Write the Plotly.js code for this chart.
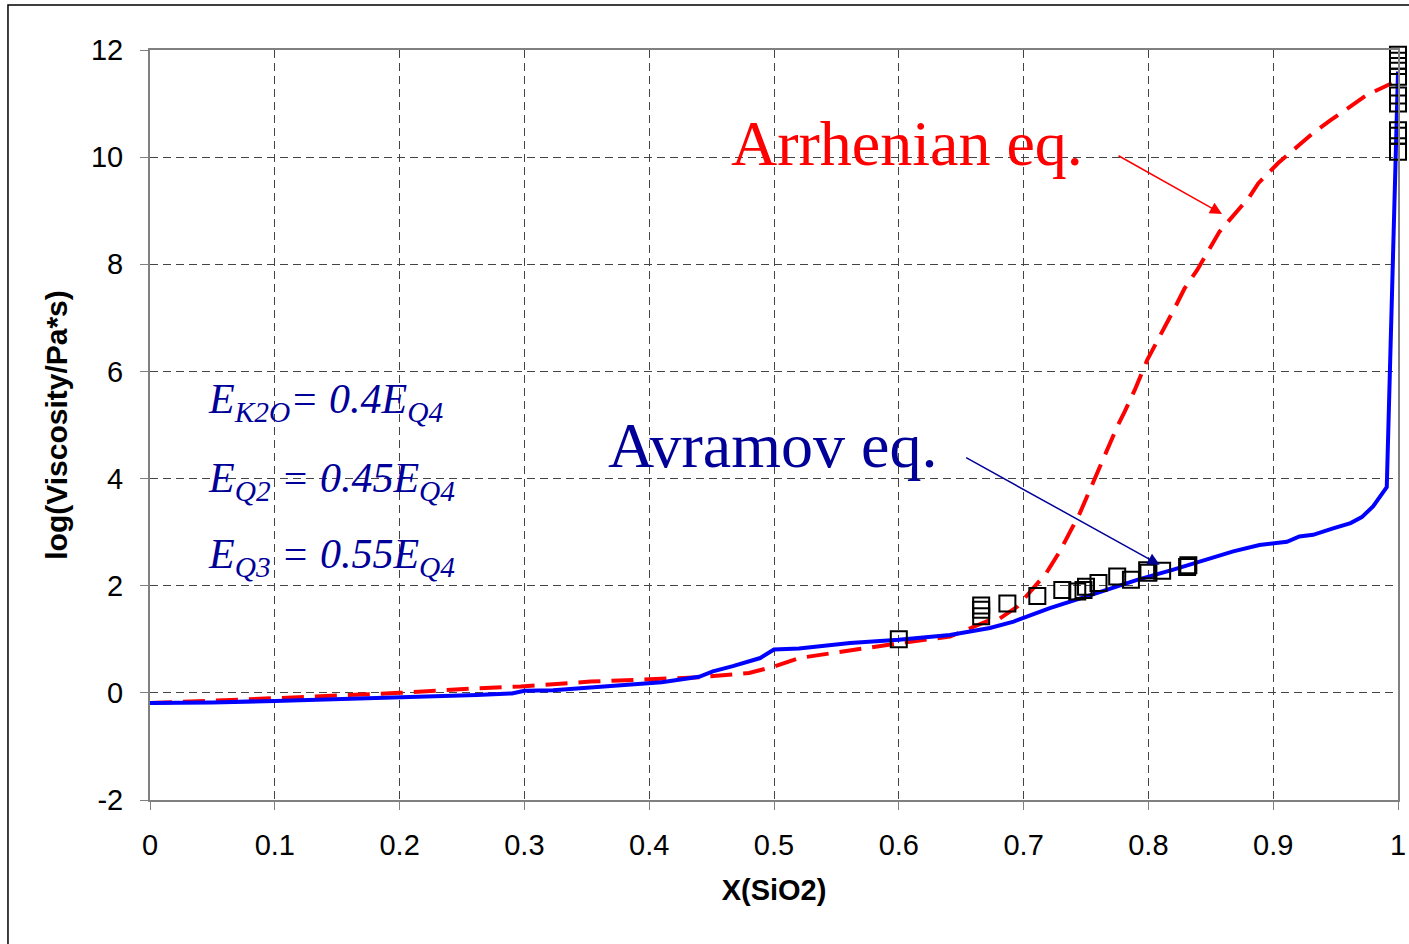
<!DOCTYPE html>
<html>
<head>
<meta charset="utf-8">
<script src="https://cdn.plot.ly/plotly-3.0.1.min.js"></script>
<style>
  html, body { margin: 0; padding: 0; background: #ffffff; }
  #chart { width: 1409px; height: 944px; }
</style>
</head>
<body>
<div id="chart"></div>
<script>
// Avramov equation (blue solid)
const avramovX = [0, 0.05, 0.1, 0.15, 0.2, 0.219, 0.262, 0.29, 0.3, 0.323, 0.36, 0.4, 0.41, 0.44, 0.451, 0.467, 0.489, 0.5, 0.52, 0.561, 0.6, 0.641, 0.673, 0.692, 0.721, 0.753, 0.791, 0.82, 0.849, 0.868, 0.889, 0.911, 0.921, 0.932, 0.948, 0.962, 0.971, 0.98, 0.991, 1.0];
const avramovY = [-0.19, -0.18, -0.15, -0.12, -0.09, -0.08, -0.04, -0.01, 0.04, 0.05, 0.12, 0.18, 0.2, 0.3, 0.4, 0.5, 0.65, 0.81, 0.83, 0.93, 0.99, 1.08, 1.21, 1.33, 1.58, 1.82, 2.11, 2.3, 2.5, 2.64, 2.76, 2.82, 2.92, 2.95, 3.07, 3.17, 3.28, 3.48, 3.84, 11.6];

// Arrhenian equation (red dashed)
const arrheniusX = [0, 0.05, 0.1, 0.15, 0.2, 0.262, 0.297, 0.353, 0.4, 0.44, 0.48, 0.5, 0.52, 0.561, 0.577, 0.601, 0.641, 0.673, 0.681, 0.695, 0.718, 0.729, 0.745, 0.752, 0.765, 0.775, 0.781, 0.789, 0.799, 0.812, 0.821, 0.829, 0.839, 0.857, 0.868, 0.881, 0.888, 0.904, 0.921, 0.932, 0.946, 0.962, 0.975, 0.995];
const arrheniusY = [-0.19, -0.15, -0.1, -0.05, 0.0, 0.085, 0.12, 0.21, 0.25, 0.29, 0.37, 0.49, 0.65, 0.8, 0.86, 0.93, 1.05, 1.36, 1.39, 1.61, 2.23, 2.64, 3.35, 3.73, 4.47, 4.97, 5.25, 5.65, 6.21, 6.77, 7.18, 7.55, 7.89, 8.61, 8.92, 9.26, 9.51, 9.89, 10.23, 10.45, 10.69, 10.94, 11.16, 11.38];

// Experimental data (open squares)
const expX = [0.6, 0.666, 0.666, 0.666, 0.687, 0.711, 0.731, 0.743, 0.748, 0.75, 0.76, 0.775, 0.786, 0.799, 0.8, 0.811, 0.831, 0.832, 1.0, 1.0, 1.0, 1.0, 1.0, 1.0, 1.0, 1.0, 1.0];
const expY = [1.0, 1.63, 1.55, 1.43, 1.67, 1.81, 1.92, 1.89, 1.92, 1.98, 2.05, 2.17, 2.11, 2.29, 2.24, 2.28, 2.35, 2.38, 11.91, 11.8, 11.7, 11.5, 11.15, 11.0, 10.5, 10.4, 10.1];

const xTicks = [0, 0.1, 0.2, 0.3, 0.4, 0.5, 0.6, 0.7, 0.8, 0.9, 1];
const xTickText = ['0', '0.1', '0.2', '0.3', '0.4', '0.5', '0.6', '0.7', '0.8', '0.9', '1'];
const yTicks = [-2, 0, 2, 4, 6, 8, 10, 12];
const yTickText = ['-2', '0', '2', '4', '6', '8', '10', '12'];

const traces = [
  {
    x: arrheniusX, y: arrheniusY, type: 'scatter', mode: 'lines', name: 'Arrhenian eq.',
    line: { color: '#ff0000', width: 4, dash: '22px,11px' }
  },
  {
    x: avramovX, y: avramovY, type: 'scatter', mode: 'lines', name: 'Avramov eq.',
    line: { color: '#0000ff', width: 4 }
  },
  {
    x: expX, y: expY, type: 'scatter', mode: 'markers', name: 'Experiment',
    cliponaxis: false,
    marker: { symbol: 'square-open', size: 16, color: '#000000', line: { color: '#000000', width: 2 } }
  }
];

const serif = '"Liberation Serif", "Times New Roman", Times, serif';
const sans = '"Liberation Sans", Arial, Helvetica, sans-serif';
const eqColor = '#000099';

const layout = {
  width: 1409, height: 944,
  margin: { l: 150, r: 11, t: 50, b: 144 },
  paper_bgcolor: '#ffffff', plot_bgcolor: '#ffffff',
  showlegend: false,
  xaxis: {
    range: [0, 1], tickvals: xTicks, ticktext: xTickText,
    showgrid: true, gridcolor: '#444444', gridwidth: 1, griddash: '8px,5px',
    zeroline: false,
    showline: true, linecolor: '#808080', linewidth: 2, mirror: true,
    ticks: 'outside', ticklen: 8, tickcolor: '#808080', tickwidth: 1,
    ticklabelstandoff: 10,
    tickfont: { family: sans, size: 29, color: '#000000' },
    title: { text: '<b>X(SiO2)</b>', font: { family: sans, size: 29, color: '#000000' }, standoff: 20 }
  },
  yaxis: {
    range: [-2, 12], tickvals: yTicks, ticktext: yTickText,
    showgrid: true, gridcolor: '#444444', gridwidth: 1, griddash: '8px,5px',
    zeroline: false,
    showline: true, linecolor: '#808080', linewidth: 2, mirror: true,
    ticks: 'outside', ticklen: 8, tickcolor: '#808080', tickwidth: 1,
    ticklabelstandoff: 11,
    tickfont: { family: sans, size: 29, color: '#000000' },
    title: { text: '<b>log(Viscosity/Pa*s)</b>', font: { family: sans, size: 30, color: '#000000' }, standoff: 14 }
  },
  shapes: [
    { type: 'rect', xref: 'paper', yref: 'paper', x0: -0.1138, x1: 1.03, y0: -0.25, y1: 1.06,
      line: { color: '#000000', width: 1.5 }, fillcolor: 'rgba(0,0,0,0)', layer: 'below' }
  ],
  annotations: [
    { x: 0.464, y: 10.25, xref: 'x', yref: 'y', xanchor: 'left', yanchor: 'middle', showarrow: false,
      text: 'Arrhenian eq.', font: { family: serif, size: 64, color: '#ff0000' } },
    { x: 0.365, y: 4.61, xref: 'x', yref: 'y', xanchor: 'left', yanchor: 'middle', showarrow: false,
      text: 'Avramov eq.', font: { family: serif, size: 64, color: eqColor } },
    { x: 0.859, y: 8.94, xref: 'x', yref: 'y', ax: -105, ay: -59, axref: 'pixel', ayref: 'pixel',
      showarrow: true, arrowhead: 2, arrowsize: 1.6, arrowwidth: 1.5, arrowcolor: '#ff0000', text: '' },
    { x: 0.809, y: 2.39, xref: 'x', yref: 'y', ax: -195, ay: -108, axref: 'pixel', ayref: 'pixel',
      showarrow: true, arrowhead: 2, arrowsize: 1.6, arrowwidth: 1.5, arrowcolor: eqColor, text: '' },
    { x: 0.045, y: 5.43, xref: 'x', yref: 'y', xanchor: 'left', yanchor: 'middle', showarrow: false,
      text: '<i>E<sub>K2O</sub>= 0.4E<sub>Q4</sub></i>', font: { family: serif, size: 42, color: eqColor } },
    { x: 0.045, y: 3.96, xref: 'x', yref: 'y', xanchor: 'left', yanchor: 'middle', showarrow: false,
      text: '<i>E<sub>Q2</sub> = 0.45E<sub>Q4</sub></i>', font: { family: serif, size: 42, color: eqColor } },
    { x: 0.045, y: 2.54, xref: 'x', yref: 'y', xanchor: 'left', yanchor: 'middle', showarrow: false,
      text: '<i>E<sub>Q3</sub> = 0.55E<sub>Q4</sub></i>', font: { family: serif, size: 42, color: eqColor } }
  ]
};

Plotly.newPlot('chart', traces, layout, { displayModeBar: false, staticPlot: true });
</script>
</body>
</html>
